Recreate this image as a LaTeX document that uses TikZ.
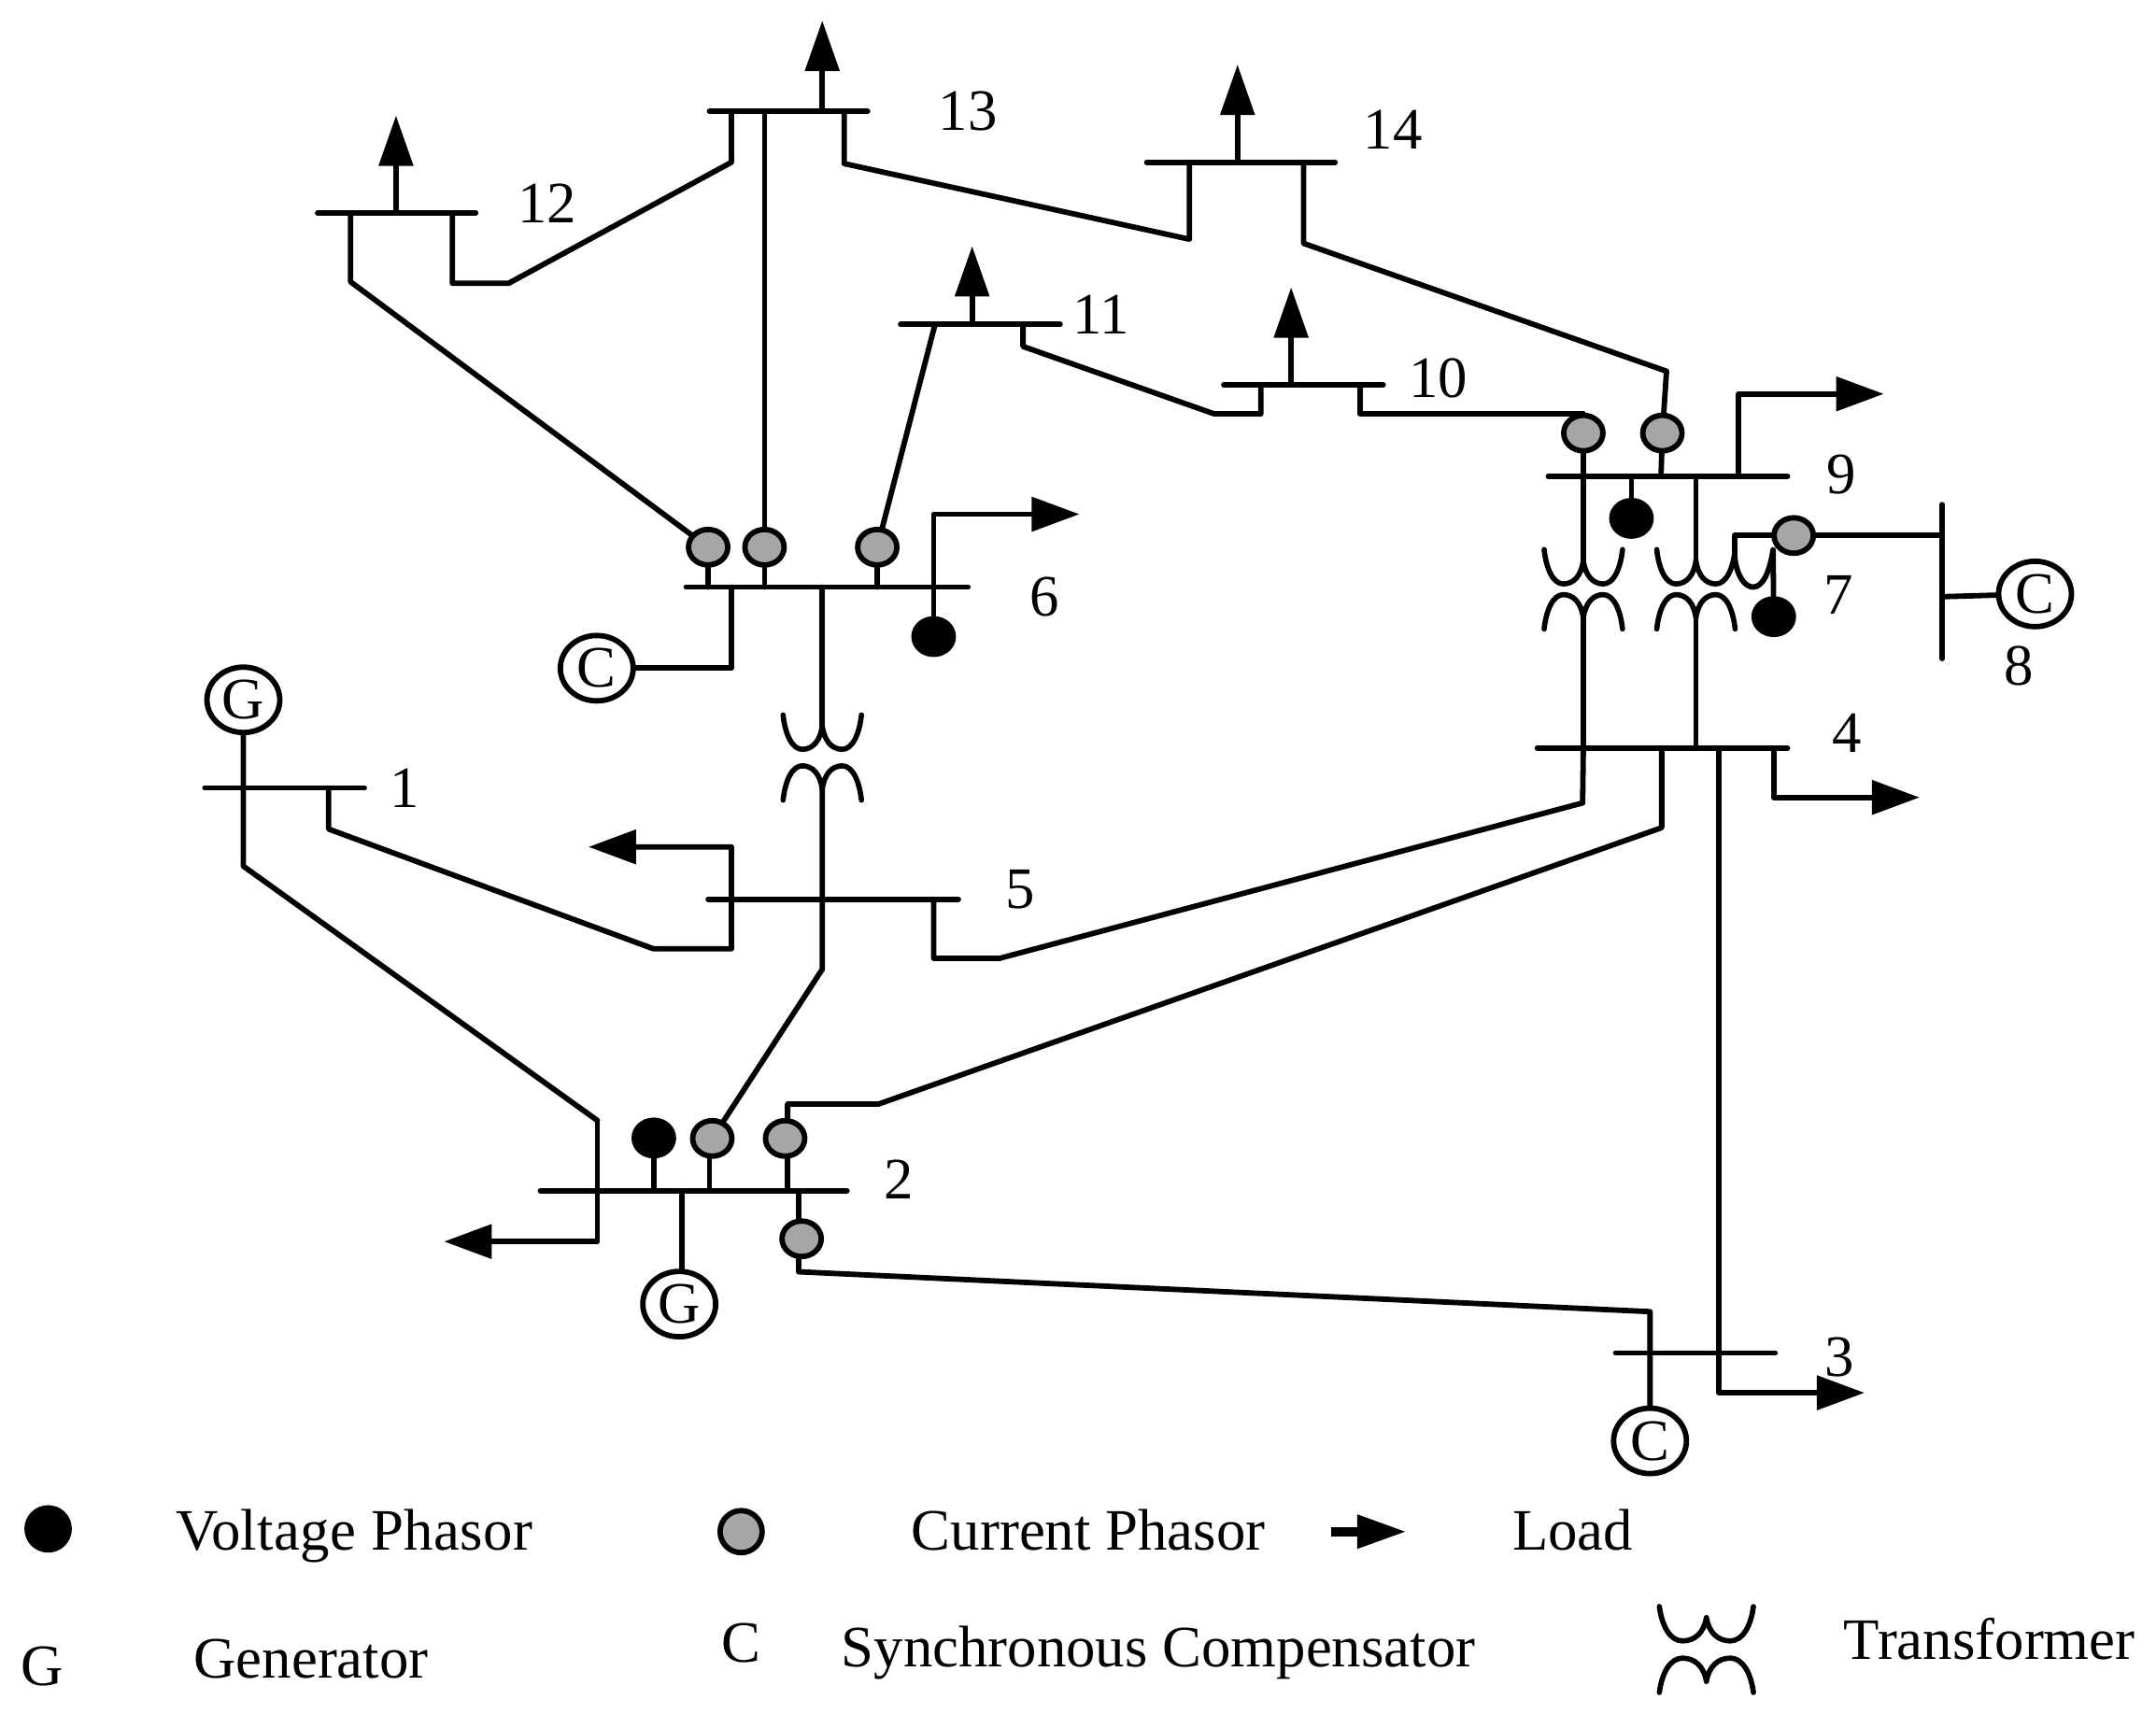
\documentclass[tikz,border=0pt]{standalone}
\usepackage{fontspec}
\setmainfont{Liberation Serif}
\usetikzlibrary{arrows.meta,shapes.geometric}
\definecolor{phasorgray}{HTML}{A6A6A6}
\tikzset{
  wire/.style={line width=5.8pt,line join=round,line cap=round,black},
  bar/.style={line width=5.8pt,line cap=round,black},
  load/.style={wire,line cap=butt,-{Triangle[length=51pt,width=36pt]}},
  upload/.style={wire,line cap=butt,-{Triangle[length=54pt,width=36pt]}},
  txt/.style={font=\fontsize{62.8}{70}\selectfont,inner sep=0pt,outer sep=0pt},
  lab/.style={txt,anchor=center},
  leg/.style={txt,anchor=base west},
  current/.style={shape=ellipse,draw=black,fill=phasorgray,line width=5.8pt,minimum width=42pt,minimum height=38pt,inner sep=0pt},
  voltage/.style={shape=ellipse,draw=black,fill=black,line width=5.8pt,minimum width=42pt,minimum height=38pt,inner sep=0pt},
  machine/.style={shape=ellipse,draw=black,fill=white,line width=5.8pt,minimum width=78pt,minimum height=70pt,inner sep=0pt,font=\fontsize{62.8}{70}\selectfont},
  pics/coil/.style={code={
    \draw[wire,line width=5.6pt] (-28.5,0) .. controls (-27,14) and (-22,25) .. (-14.5,25) .. controls (-7,25) and (-1.5,19) .. (0,8)
       .. controls (1.5,19) and (7,25) .. (14.5,25) .. controls (22,25) and (27,14) .. (28.5,0);
  }}
}
\begin{document}
\begin{tikzpicture}[x=1.472pt,y=-1.472pt]
\useasboundingbox (0,0) rectangle (1568,1246.6);
% ---------- phasors and machines
\node[current] (i6a) at (515,398) {};
\node[current] (i6b) at (556,398) {};
\node[current] (i6c) at (638,398) {};
\node[voltage] (v6) at (679,463) {};
\node[machine] (c6) at (434,486) {C};
\node[machine] (g1) at (177,509) {G};
\node[machine] (g2) at (494,948.5) {G};
\node[machine] (c3) at (1200,1048) {C};
\node[machine] (c8) at (1480,432) {C};
\node[current] (i9a) at (1151.5,315) {};
\node[current] (i9b) at (1209,315) {};
\node[voltage] (v9) at (1186.5,377) {};
\node[current] (i7) at (1304.5,389.5) {};
\node[voltage] (v7) at (1290,448.5) {};
\node[voltage] (v2) at (475.5,827.7) {};
\node[current] (i2a) at (518,828) {};
\node[current] (i2b) at (571,828) {};
\node[current] (i2c) at (583,901) {};
% ---------- labels
\node[lab] (n1) at (294.5,573) {1};
\node[lab] (n2) at (654,858) {2};
\node[lab] (n3) at (1338,987) {3};
\node[lab] (n4) at (1343,533) {4};
\node[lab] (n5) at (742,647) {5};
\node[lab] (n6) at (760,434) {6};
\node[lab] (n7) at (1337,433) {7};
\node[lab] (n8) at (1468,484) {8};
\node[lab] (n9) at (1339,345) {9};
\node[lab] (n10) at (1046,275) {10};
\node[lab] (n11) at (801,229) {11};
\node[lab] (n12) at (398,148) {12};
\node[lab] (n13) at (704,81) {13};
\node[lab] (n14) at (1013,94) {14};
% ---------- named points
\foreach \n/\x/\y in {
  b1l/149/573, b1r/265/573, b1g/177/573, b1a/177/630, b1b/239/573, b1c/239/603, b1d/475/690, b1e/532/690,
  b5l/515/654, b5r/697/654, b5a/532/654, b5b/532/616, l5/428/616, b5t/598/654, b5u/598/705,
  b5c/679/654, b5d/679/697, b5e/727/697,
  b2l/393/866, b2r/616/866, b2a/434.5/815, b2b/434.5/903, l2/323/903, b2v/475.5/866, b2i/516/866, b2j/572.8/866, b2k/580.8/866, b2g/496/866,
  b2m/572.8/803, b2n/639/803, b2o/580.8/925,
  b3l/1175/984, b3r/1291/984, b3a/1200/954, b3c/1200/984, b3d/1250/984, b3e/1250/1013, l3/1356/1013,
  b4l/1118/544, b4r/1300/544, b4a/1151.5/544, b4a2/1151/584, b4b/1208.5/544, b4b2/1208.5/602, b4d/1250/544,
  b4e/1290/544, b4f/1290/580, l4/1396/580, b4t/1233.4/544, t1low/1151.5/449, t2low/1233.4/449,
  b6l/499/427, b6r/704/427, b6a/515/427, b6b/556/427, b6c/638/427, b6d/679/374, l6/785/374, b6e/532/427, b6f/532/486, b6g/598/427, b6h/679/427,
  t6up/598/528, t6lo/598/574,
  b9l/1126/346.5, b9r/1300/346.5, b9a/1151.5/346.5, b9b/1208/346.5, b9c/1186.5/346.5, b9d/1233.4/346.5, b9e/1264.3/346.5, b9f/1264.3/286.5, l9/1370/286.5,
  t1up/1151.5/408, t2up/1233.4/408,
  b8t/1412.5/367, b8b/1412.5/479, b8i/1412.5/389.5, b8c/1412.5/434, w7a/1261.6/389.5, w7b/1289.5/400,
  b10l/890/280, b10r/1006/280, b10a/917/280, b10b/917/301, b10c/883/301, b10d/939/280, u10/939/209, b10e/989/280, b10f/989/301, b10g/1151.5/301,
  b11l/655/236, b11r/771/236, b11a/680/236, b11b/707/236, u11/707/179, b11c/744/236, b11d/744/252,
  b12l/231/155, b12r/346/155, b12a/255/155, b12b/255/205, b12c/288/155, u12/288/84, b12d/329/155, b12e/329/206, b12f/370/206,
  b13l/516/81, b13r/631/81, b13a/532/81, b13b/532/118, b13c/556/81, b13d/598/81, u13/598/15, b13e/614/81, b13f/614/119,
  b14l/834/118, b14r/971/118, b14a/865/118, b14b/865/174, b14c/900/118, u14/900/47, b14d/948/118, b14e/948/177, b14f/1212/270,
  lega/968/1114, legb/1023/1114
}{ \coordinate (\n) at (\x,\y); }
% ---------- buses
\foreach \s in {1,2,3,4,5,6,9,10,11,12,13,14} { \draw[bar] (b\s l) -- (b\s r); }
\draw[bar] (b8t) -- (b8b);
% ---------- bus 1, 2, 5
\draw[wire] (g1) -- (b1g) -- (b1a) -- (b2a);
\draw[load] (b2a) -- (b2b) -- (l2);
\draw[load] (b1b) -- (b1c) -- (b1d) -- (b1e) -- (b5b) -- (l5);
\draw[wire] (t6lo) -- (b5u) -- (i2a);
\draw[wire] (b5c) -- (b5d) -- (b5e) -- (b4a2) -- (b4a);
\draw[wire] (v2) -- (b2v);
\draw[wire] (b2i |- i2a.south) -- (b2i);
\draw[wire] (b2j |- i2b.south) -- (b2j);
\draw[wire] (b2k |- i2c.north) -- (b2k);
\draw[wire] (b2g) -- (b2g |- g2.north);
\draw[wire] (i2b.north -| b2m) -- (b2m) -- (b2n) -- (b4b2) -- (b4b);
\draw[wire] (b2k |- i2c.south) -- (b2o) -- (b3a) -- (b3c) -- (c3);
% ---------- bus 3, 4
\draw[load] (b4d) -- (b3e) -- (l3);
\draw[load] (b4e) -- (b4f) -- (l4);
\draw[wire] (t1low) -- (b4a);
\draw[wire] (t2low) -- (b4t);
% ---------- bus 6
\draw[wire] (i6a) -- (b6a);
\draw[wire] (i6b) -- (b6b);
\draw[wire] (i6c) -- (b6c);
\draw[wire] (v6) -- (b6h);
\draw[load] (b6h) -- (b6d) -- (l6);
\draw[wire] (b6e) -- (b6f) -- (c6);
\draw[wire] (b6g) -- (t6up);
% ---------- transformer at bus 6/5
\pic at (598,520) {coil};
\pic[yscale=-1] at (598,582) {coil};
% ---------- transformers at bus 9/4
\pic at (1151.5,399.7) {coil};
\pic[yscale=-1] at (1151.5,457.5) {coil};
\pic at (1233.4,399.7) {coil};
\pic[yscale=-1] at (1233.4,457.5) {coil};
\draw[wire] (w7a) -- (1261.6,405) .. controls (1263,419) and (1269,427) .. (1275,427) .. controls (1282,427) and (1287,416) .. (w7b);
\draw[wire] (w7a) -- (i7);
\draw[wire] (i7) -- (b8i);
\draw[wire] (w7b) -- (v7);
\draw[wire] (b8c) -- (c8);
% ---------- bus 9
\draw[wire] (i9a) -- (b9a) -- (t1up);
\draw[wire] (i9b) -- (b9b);
\draw[wire] (b9c) -- (v9);
\draw[wire] (b9d) -- (t2up);
\draw[load] (b9e) -- (b9f) -- (l9);
% ---------- upper network
\draw[wire] (i6a) -- (b12b) -- (b12a);
\draw[upload] (b12c) -- (u12);
\draw[wire] (b12d) -- (b12e) -- (b12f) -- (b13b) -- (b13a);
\draw[wire] (b13c) -- (i6b);
\draw[upload] (b13d) -- (u13);
\draw[wire] (b13e) -- (b13f) -- (b14b) -- (b14a);
\draw[upload] (b14c) -- (u14);
\draw[wire] (b14d) -- (b14e) -- (b14f) -- (i9b);
\draw[wire] (b11a) -- (i6c);
\draw[upload] (b11b) -- (u11);
\draw[wire] (b11c) -- (b11d) -- (b10c) -- (b10b) -- (b10a);
\draw[upload] (b10d) -- (u10);
\draw[wire] (b10e) -- (b10f) -- (b10g);
% ---------- legend
\node[voltage,minimum width=45pt,minimum height=45pt] (kv) at (35,1112) {};
\node[current,minimum width=45pt,minimum height=45pt] (ki) at (539,1114) {};
\draw[line width=10pt,line cap=butt,-{Triangle[length=53pt,width=34pt]}] (lega) -- (legb);
\node[leg] (t1) at (128,1127.3) {\addfontfeatures{LetterSpace=0.6}Voltage Phasor};
\node[leg] (t2) at (663,1127.3) {Current Phasor};
\node[leg] (t3) at (1100,1127.3) {Load};
\node[leg] (t4) at (15,1225.6) {G};
\node[leg] (t5) at (141,1220.6) {Generator};
\node[leg] (t6) at (525,1208.8) {C};
\node[leg] (t7) at (612,1212.6) {Synchronous Compensator};
\node[leg] (t8) at (1341,1207) {Transformer};
\pic[xscale=1.2] at (1241,1168.5) {coil};
\pic[xscale=1.2,yscale=-1] at (1241,1231) {coil};
\end{tikzpicture}
\end{document}
